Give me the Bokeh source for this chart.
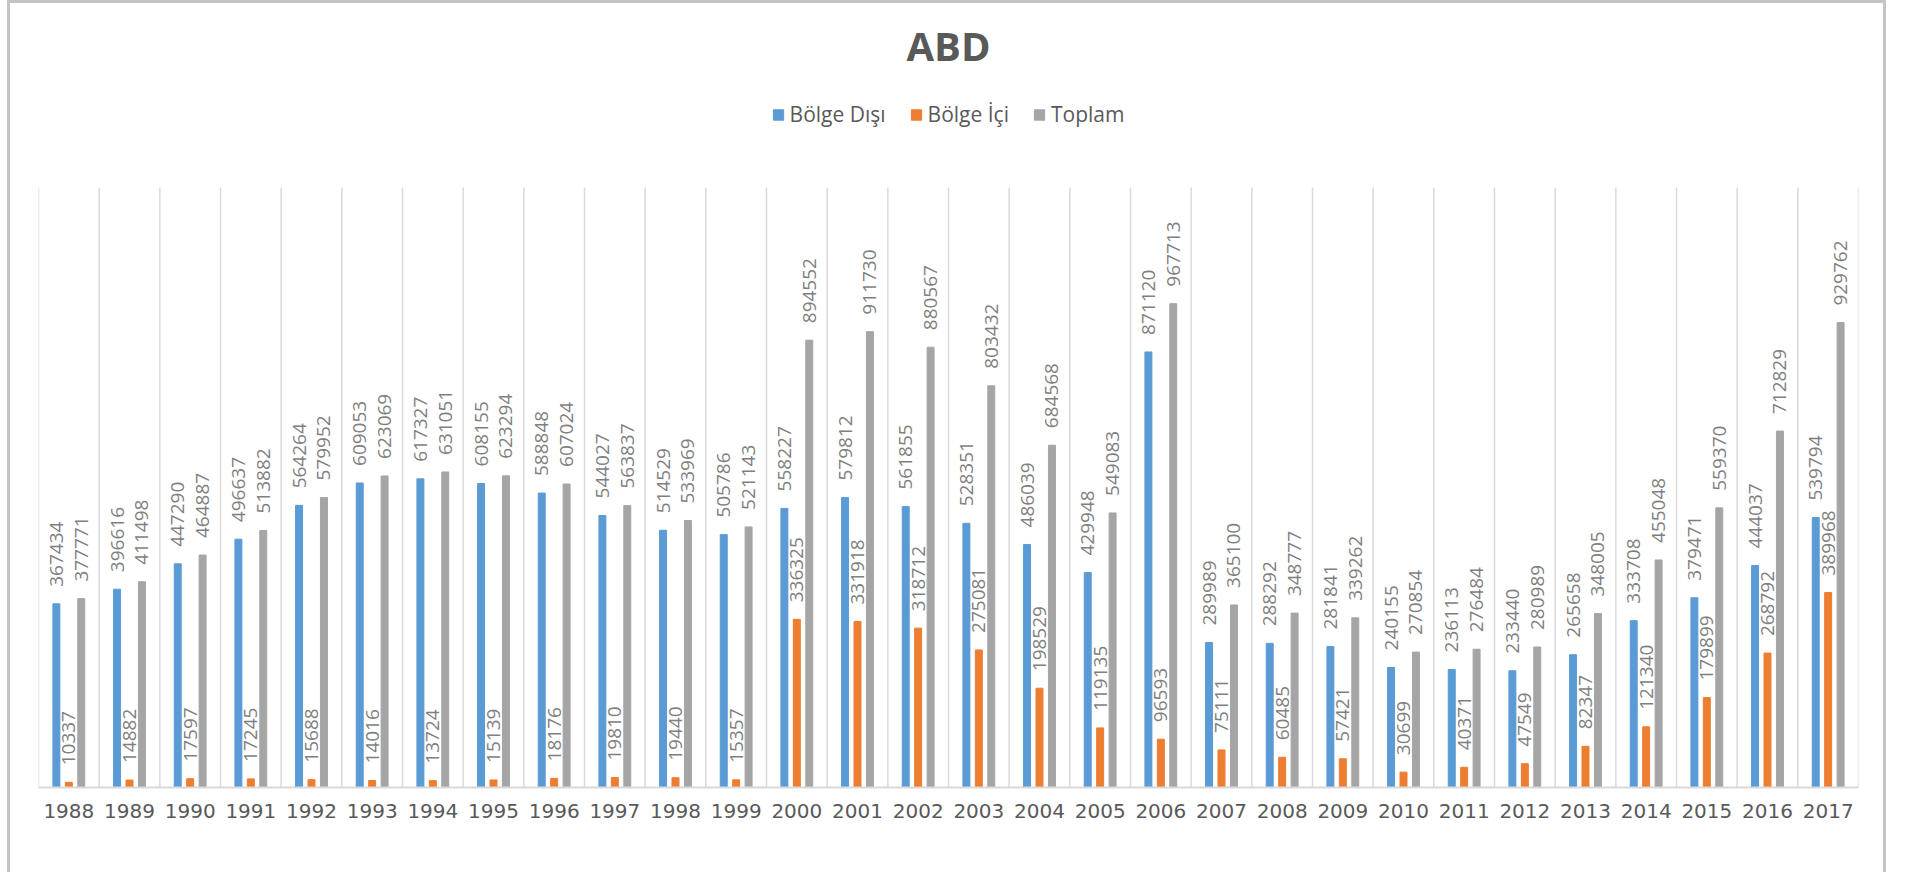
import numpy as np
from bokeh.plotting import figure
from bokeh.models import (ColumnDataSource, Range1d, FixedTicker, Legend,
                          LegendItem, Label)
from bokeh.core.properties import value
from bokeh.embed import file_html
from bokeh.resources import INLINE

years = ["1988", "1989", "1990", "1991", "1992", "1993", "1994", "1995",
         "1996", "1997", "1998", "1999", "2000", "2001", "2002", "2003",
         "2004", "2005", "2006", "2007", "2008", "2009", "2010", "2011",
         "2012", "2013", "2014", "2015", "2016", "2017"]
bolge_disi = [367434, 396616, 447290, 496637, 564264, 609053, 617327, 608155,
              588848, 544027, 514529, 505786, 558227, 579812, 561855, 528351,
              486039, 429948, 871120, 289989, 288292, 281841, 240155, 236113,
              233440, 265658, 333708, 379471, 444037, 539794]
bolge_ici = [10337, 14882, 17597, 17245, 15688, 14016, 13724, 15139,
             18176, 19810, 19440, 15357, 336325, 331918, 318712, 275081,
             198529, 119135, 96593, 75111, 60485, 57421, 30699, 40371,
             47549, 82347, 121340, 179899, 268792, 389968]
toplam = [377771, 411498, 464887, 513882, 579952, 623069, 631051, 623294,
          607024, 563837, 533969, 521143, 894552, 911730, 880567, 803432,
          684568, 549083, 967713, 365100, 348777, 339262, 270854, 276484,
          280989, 348005, 455048, 559370, 712829, 929762]
series_names = ["Bölge Dışı", "Bölge İçi", "Toplam"]
title_text = "ABD"
axis_max = 1200000

# layout (pixels)
FRAME_W, FRAME_H = 1820, 784
PLOT_PX = 600                      # pixels used by 0..axis_max
UNITS_PER_PX = axis_max / PLOT_PX
y_top = FRAME_H * UNITS_PER_PX

n = len(years)
xc = np.arange(n) + 0.5
off = 0.205
bw = 0.115

src = ColumnDataSource(dict(
    xd=xc - off, xi=xc, xt=xc + off,
    d=bolge_disi, i=bolge_ici, t=toplam,
    ld=[str(v) for v in bolge_disi],
    li=[str(v) for v in bolge_ici],
    lt=[str(v) for v in toplam],
))

p = figure(frame_width=FRAME_W, frame_height=FRAME_H,
           x_range=Range1d(0, n), y_range=Range1d(0, y_top),
           output_backend="svg", toolbar_location=None,
           y_axis_location=None, title=None,
           min_border_left=28, min_border_right=25,
           min_border_top=0, min_border_bottom=85,
           outline_line_color=None,
           background_fill_color="white", border_fill_color="white")

p.styles = {"margin-left": "7px",
            "border-left": "3px solid #c4c4c4",
            "border-right": "3px solid #c4c4c4",
            "border-top": "3px solid #c4c4c4"}

# vertical category separators (Excel-style gridlines)
bounds = list(range(n + 1))
p.segment(x0=bounds, y0=[0] * (n + 1), x1=bounds, y1=[axis_max] * (n + 1),
          line_color="#d9d9d9", line_width=1.5)

colors = ["#5B9BD5", "#ED7D31", "#A5A5A5"]
r1 = p.vbar(x="xd", top="d", width=bw, source=src, color=colors[0])
r2 = p.vbar(x="xi", top="i", width=bw, source=src, color=colors[1])
r3 = p.vbar(x="xt", top="t", width=bw, source=src, color=colors[2])

for xcol, ycol, lcol in (("xd", "d", "ld"), ("xi", "i", "li"), ("xt", "t", "lt")):
    p.text(x=xcol, y=ycol, text=lcol, source=src, angle=np.pi / 2,
           text_align="left", text_baseline="middle", y_offset=-17,
           text_font=value("Open Sans"), text_font_size="19px",
           text_color="#7f7f7f")

p.xgrid.grid_line_color = None
p.ygrid.grid_line_color = None

ax = p.xaxis[0]
ax.ticker = FixedTicker(ticks=[float(v) for v in xc])
ax.major_label_overrides = {float(v): y for v, y in zip(xc, years)}
ax.axis_line_color = "#d9d9d9"
ax.axis_line_width = 2
ax.major_tick_line_color = None
ax.minor_tick_line_color = None
ax.major_label_text_font = "DejaVu Sans"
ax.major_label_text_font_size = "20px"
ax.major_label_text_color = "#595959"
ax.major_label_standoff = 10

legend = Legend(items=[LegendItem(label=series_names[0], renderers=[r1]),
                       LegendItem(label=series_names[1], renderers=[r2]),
                       LegendItem(label=series_names[2], renderers=[r3])],
                orientation="horizontal", location="top_center",
                glyph_width=13, glyph_height=13, label_standoff=5,
                spacing=24, label_text_font="Open Sans",
                label_text_font_size="21px", label_text_color="#595959",
                border_line_color=None, background_fill_alpha=0,
                padding=0, margin=97)
p.add_layout(legend, "center")

title = Label(x=n / 2, y=y_top - 42 * UNITS_PER_PX, text=title_text,
              text_align="center", text_baseline="middle",
              text_font="Open Sans", text_font_size="40px",
              text_font_style="bold", text_color="#595959")
p.add_layout(title)

open("out.html", "w").write(file_html(p, INLINE))
